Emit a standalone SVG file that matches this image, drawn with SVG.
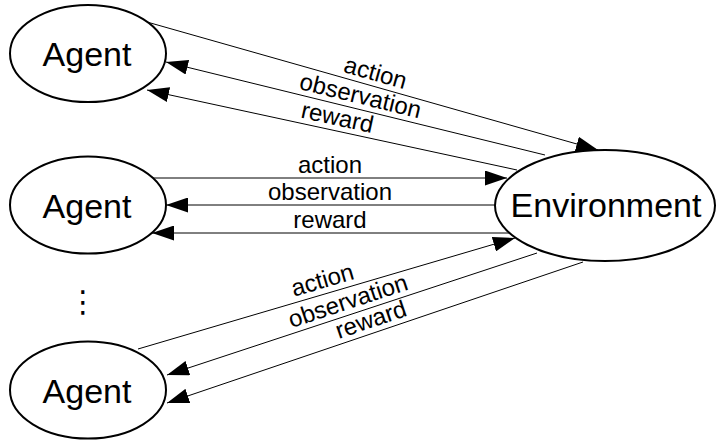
<svg xmlns="http://www.w3.org/2000/svg" width="717" height="440" viewBox="0 0 717 440">
<style>
.node ellipse{fill:#fff;stroke:#000;stroke-width:2}
.node text{font-family:"Liberation Sans",Arial,sans-serif;font-size:34px;text-anchor:middle;fill:#000}
.edge line{stroke:#000;stroke-width:1}
.lbl{font-family:"Liberation Sans",Arial,sans-serif;font-size:24px;text-anchor:middle;fill:#000}
.dots{font-family:"DejaVu Sans",sans-serif;font-size:30px;text-anchor:middle;fill:#000}
</style>
<defs>
<marker id="ah" markerUnits="userSpaceOnUse" markerWidth="22" markerHeight="15" refX="22" refY="7.5" orient="auto" viewBox="0 0 22 15">
<path d="M0,0 L22,7.5 L0,15 z" fill="#000"/>
</marker>
</defs>
<g id="edges" class="edge">
<line x1="147" y1="22" x2="598" y2="150" marker-end="url(#ah)"/>
<line x1="545" y1="155" x2="166" y2="62" marker-end="url(#ah)"/>
<line x1="517" y1="170" x2="147" y2="90" marker-end="url(#ah)"/>
<line x1="153" y1="178" x2="507" y2="178" marker-end="url(#ah)"/>
<line x1="495" y1="205" x2="166" y2="205" marker-end="url(#ah)"/>
<line x1="510" y1="233" x2="152" y2="233" marker-end="url(#ah)"/>
<line x1="138" y1="349" x2="515" y2="238" marker-end="url(#ah)"/>
<line x1="537" y1="253" x2="167" y2="375" marker-end="url(#ah)"/>
<line x1="583" y1="262" x2="167" y2="403" marker-end="url(#ah)"/>
<text class="lbl" transform="translate(371.9,85.8) rotate(15.85)" y="-5.5">action</text>
<text class="lbl" transform="translate(357.3,108.9) rotate(13.79)" y="-5.5">observation</text>
<text class="lbl" transform="translate(334.6,130.6) rotate(12.2)" y="-5.5">reward</text>
<text class="lbl" x="330" y="172.5">action</text>
<text class="lbl" x="330" y="199.5">observation</text>
<text class="lbl" x="330" y="227.5">reward</text>
<text class="lbl" transform="translate(326.2,293) rotate(-16.26)" y="-5.5">action</text>
<text class="lbl" transform="translate(352.1,313.9) rotate(-18.25)" y="-5.5">observation</text>
<text class="lbl" transform="translate(375.2,332.4) rotate(-18.72)" y="-5.5">reward</text>
</g>
<g id="agent1" class="node"><ellipse cx="88" cy="53.5" rx="78" ry="48.5"/><text x="87" y="66">Agent</text></g>
<g id="agent2" class="node"><ellipse cx="88" cy="205" rx="78" ry="48.5"/><text x="87" y="217.5">Agent</text></g>
<g id="agent3" class="node"><ellipse cx="88" cy="390" rx="78" ry="48.5"/><text x="87" y="402.5">Agent</text></g>
<g id="dots" class="node"><text class="dots" x="83" y="312" style="font-family:'DejaVu Sans',sans-serif;font-size:30px">⋮</text></g>
<g id="environment" class="node"><ellipse cx="605" cy="205.5" rx="110" ry="55.5"/><text x="606" y="217">Environment</text></g>
</svg>
